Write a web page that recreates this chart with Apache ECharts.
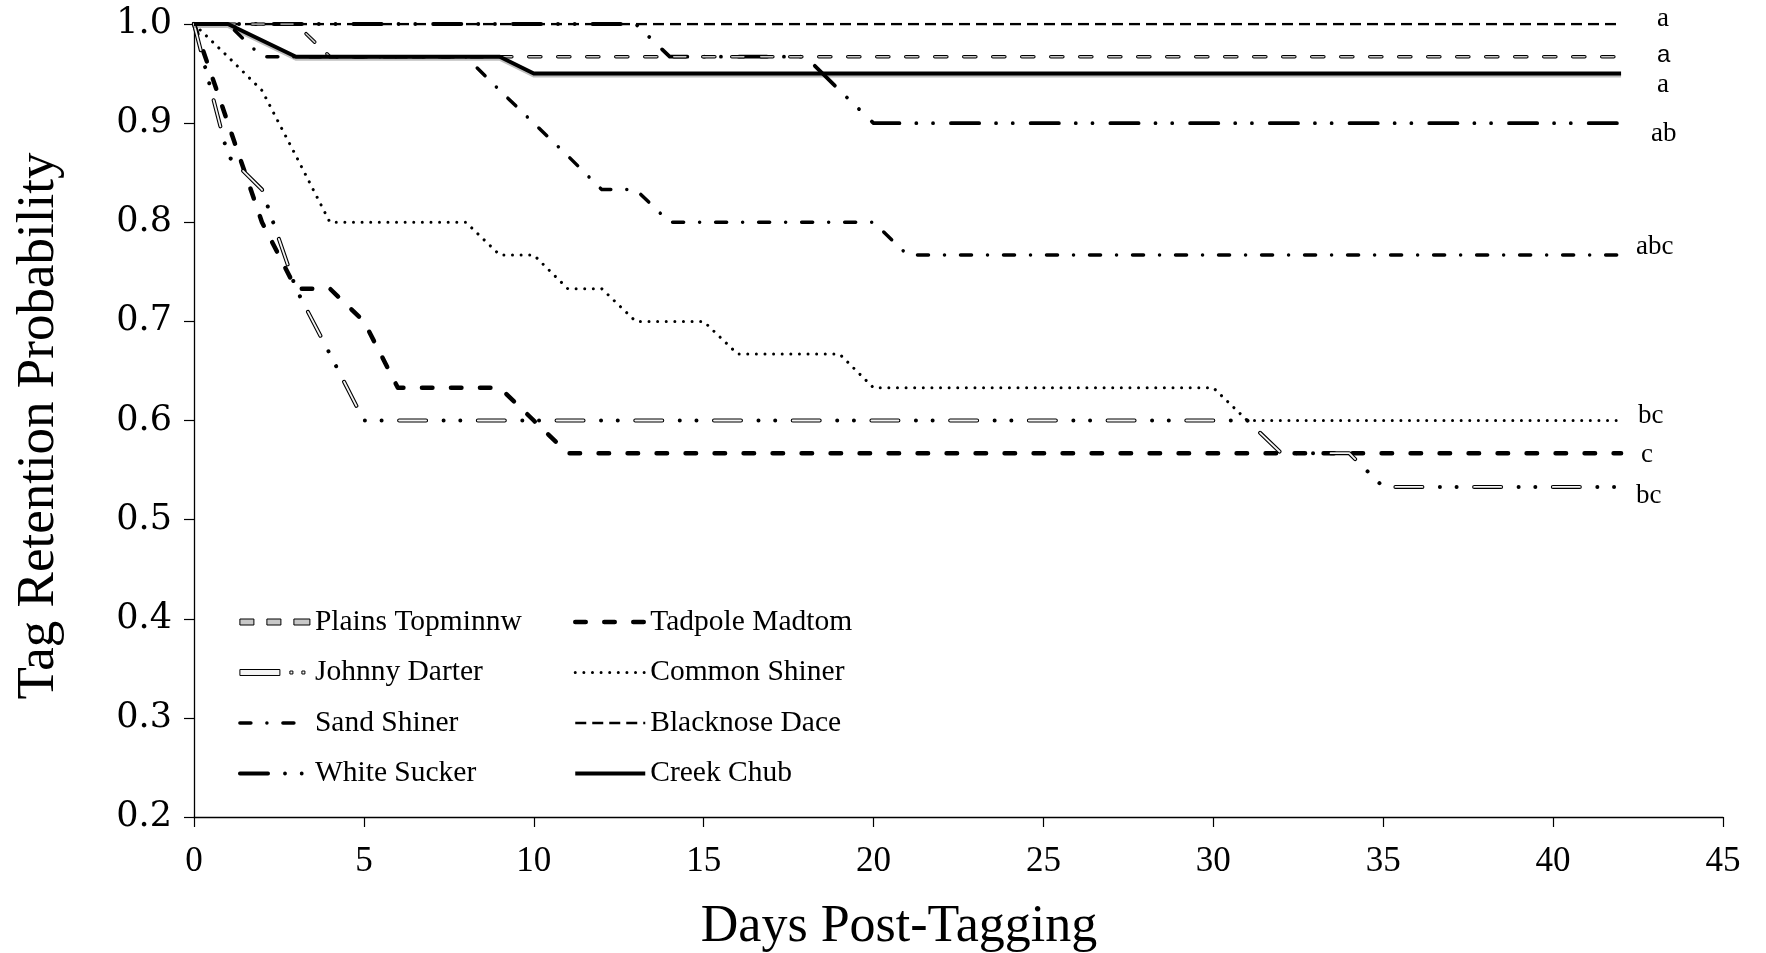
<!DOCTYPE html>
<html>
<head>
<meta charset="utf-8">
<script src="https://cdn.jsdelivr.net/npm/echarts@6/dist/echarts.min.js"></script>
<style>
html,body{margin:0;padding:0;background:#fff;}
#chart{width:1766px;height:953px;}
</style>
</head>
<body>
<div id="chart"></div>
<script>
// ---- Data ----
const xTicks = [0, 5, 10, 15, 20, 25, 30, 35, 40, 45];
const yTicks = [0.2, 0.3, 0.4, 0.5, 0.6, 0.7, 0.8, 0.9, 1.0];

const ptName = 'Plains Topminnw';
const ptDays = [0, 3, 4, 42];
const ptVals = [1, 1, 0.967, 0.967];
const ptLetter = 'a';

const jdName = 'Johnny Darter';
const jdDays = [0, 1, 2, 3, 4, 5, 31, 32, 34, 35, 42];
const jdVals = [1, 0.867, 0.833, 0.733, 0.667, 0.6, 0.6, 0.567, 0.567, 0.533, 0.533];
const jdLetter = 'bc';

const ssName = 'Sand Shiner';
const ssDays = [0, 1, 2, 8, 9, 10, 11, 12, 13, 14, 20, 21, 42];
const ssVals = [1, 1, 0.967, 0.967, 0.933, 0.9, 0.867, 0.833, 0.833, 0.8, 0.8, 0.767, 0.767];
const ssLetter = 'abc';

const wsName = 'White Sucker';
const wsDays = [0, 13, 14, 18, 19, 20, 42];
const wsVals = [1, 1, 0.967, 0.967, 0.933, 0.9, 0.9];
const wsLetter = 'ab';

const tmName = 'Tadpole Madtom';
const tmDays = [0, 1, 2, 3, 4, 5, 6, 9, 10, 11, 42];
const tmVals = [1, 0.9, 0.8, 0.733, 0.733, 0.7, 0.633, 0.633, 0.6, 0.567, 0.567];
const tmLetter = 'c';

const csName = 'Common Shiner';
const csDays = [0, 1, 2, 3, 4, 8, 9, 10, 11, 12, 13, 15, 16, 19, 20, 30, 31, 42];
const csVals = [1, 0.967, 0.933, 0.867, 0.8, 0.8, 0.767, 0.767, 0.733, 0.733, 0.7, 0.7, 0.667, 0.667, 0.633, 0.633, 0.6, 0.6];
const csLetter = 'bc';

const bdName = 'Blacknose Dace';
const bdDays = [0, 42];
const bdVals = [1, 1];
const bdLetter = 'a';

const ccName = 'Creek Chub';
const ccDays = [0, 1, 3, 9, 10, 42];
const ccVals = [1, 1, 0.967, 0.967, 0.95, 0.95];
const ccLetter = 'a';

// ---- Styling / building ----
const SERIF = '"Liberation Serif", "Times New Roman", serif';
const WIDE_SERIF = '"DejaVu Serif", "Liberation Serif", serif';
const SANS = '"Liberation Sans", "DejaVu Sans", sans-serif';

function pairs(days, vals) { return days.map((d, i) => [d, vals[i]]); }

function lineSeries(name, days, vals, ls, z) {
  return {
    type: 'line', name: name, data: pairs(days, vals),
    showSymbol: false, symbol: 'none', smooth: false, animation: false,
    silent: true, z: z || 2,
    itemStyle: { color: 'rgba(0,0,0,0)', borderWidth: 0 },
    lineStyle: Object.assign({ color: '#000', join: 'round' }, ls)
  };
}

function withLetter(s, days, vals, letter, dx, dy, family, size) {
  s.markPoint = {
    symbol: 'circle', symbolSize: 0.1, animation: false, silent: true,
    itemStyle: { color: 'rgba(0,0,0,0)' },
    label: {
      show: true, position: 'inside', align: 'left', verticalAlign: 'middle',
      offset: [dx, dy], formatter: letter, color: '#000',
      fontFamily: family || SERIF, fontSize: size || 27
    },
    data: [{ coord: [days[days.length - 1], vals[vals.length - 1]] }]
  };
  return s;
}

const series = [
  withLetter(lineSeries(bdName, bdDays, bdVals, { width: 2.7, type: [11, 6], cap: 'butt' }, 2), bdDays, bdVals, bdLetter, 36, -5),
  lineSeries('pt-outline', ptDays, ptVals, { width: 3.6, type: [12, 17], cap: 'round' }, 3),
  withLetter(lineSeries(ptName, ptDays, ptVals, { color: '#c8c8c8', width: 1.6, type: [12, 17], cap: 'round' }, 4), ptDays, ptVals, ptLetter, 36, -1, SANS, 24),
  lineSeries('jd-outline', jdDays, jdVals, { width: 4, type: [27, 17.5, 0.01, 16.7, 0.01, 17.5], cap: 'round' }, 3),
  withLetter(lineSeries(jdName, jdDays, jdVals, { color: '#f4f4f4', width: 1.8, type: [27, 51.72], cap: 'round' }, 4), jdDays, jdVals, jdLetter, 15, 9),
  withLetter(lineSeries(ssName, ssDays, ssVals, { width: 3.5, type: [11, 16, 0.01, 16], cap: 'round' }, 2), ssDays, ssVals, ssLetter, 15, -8),
  withLetter(lineSeries(wsName, wsDays, wsVals, { width: 3.8, type: [28.2, 16.9, 0.01, 16.7, 0.01, 17.9], cap: 'round' }, 2), wsDays, wsVals, wsLetter, 30, 11),
  withLetter(lineSeries(tmName, tmDays, tmVals, { width: 4.5, type: [10.5, 18.5], cap: 'round' }, 2), tmDays, tmVals, tmLetter, 20, 2),
  withLetter(lineSeries(csName, csDays, csVals, { width: 3, type: [0.01, 8.6], cap: 'round' }, 2), csDays, csVals, csLetter, 17, -5),
  withLetter(lineSeries(ccName, ccDays, ccVals, { width: 4, type: 'solid', cap: 'butt', shadowColor: 'rgba(0,0,0,0.25)', shadowOffsetY: 2 }, 5), ccDays, ccVals, ccLetter, 36, 11)
];

const legendBase = {
  orient: 'vertical', itemWidth: 70, itemHeight: 6, itemGap: 20.5,
  selectedMode: false,
  textStyle: { fontFamily: SERIF, fontSize: 29.5, color: '#000', lineHeight: 30 },
  lineStyle: { width: 'inherit' }
};

const option = {
  backgroundColor: '#fff',
  animation: false,
  grid: { left: 194, right: 43, top: 24, bottom: 136, containLabel: false },
  xAxis: {
    type: 'value', min: xTicks[0], max: xTicks[xTicks.length - 1], interval: 5,
    axisLine: { show: true, lineStyle: { color: '#000', width: 1.3 } },
    axisTick: { show: true, length: 10, lineStyle: { color: '#000', width: 1.2 } },
    splitLine: { show: false },
    axisLabel: { color: '#000', fontFamily: SERIF, fontSize: 35, margin: 27 }
  },
  yAxis: {
    type: 'value', min: yTicks[0], max: yTicks[yTicks.length - 1], interval: 0.1,
    axisLine: { show: true, lineStyle: { color: '#000', width: 1.3 } },
    axisTick: { show: true, length: 10, lineStyle: { color: '#000', width: 1.2 } },
    splitLine: { show: false },
    axisLabel: { color: '#000', fontFamily: WIDE_SERIF, fontSize: 35, margin: 22,
      formatter: v => v.toFixed(1) }
  },
  legend: [
    Object.assign({}, legendBase, {
      left: 233, top: 602,
      data: [
        { name: ptName, icon: 'path://M0,0h14v6h-14z M27,0h14v6h-14z M54,0h16v6h-16z',
          itemStyle: { color: '#c8c8c8', borderColor: '#000', borderWidth: 1, opacity: 1 } },
        { name: jdName, icon: 'path://M0,0h40v6h-40z M50,1.5h3v3h-3z M62,1.5h3v3h-3z M70,3h0.01v0.01h-0.01z',
          itemStyle: { color: '#f4f4f4', borderColor: '#000', borderWidth: 1, opacity: 1 } },
        { name: ssName },
        { name: wsName }
      ]
    }),
    Object.assign({}, legendBase, {
      left: 568, top: 602,
      data: [{ name: tmName }, { name: csName }, { name: bdName }, { name: ccName }]
    })
  ],
  graphic: [
    { type: 'text', x: 39, y: 426, rotation: Math.PI / 2, silent: true,
      style: { text: 'Tag Retention Probability', fill: '#000', font: '53px ' + SERIF,
        align: 'center', verticalAlign: 'middle' } },
    { type: 'text', x: 899, y: 927, silent: true,
      style: { text: 'Days Post-Tagging', fill: '#000', font: '52px ' + SERIF,
        align: 'center', verticalAlign: 'middle' } }
  ],
  series: series
};

const chart = echarts.init(document.getElementById('chart'), null, { renderer: 'canvas' });
chart.setOption(option);
</script>
</body>
</html>
